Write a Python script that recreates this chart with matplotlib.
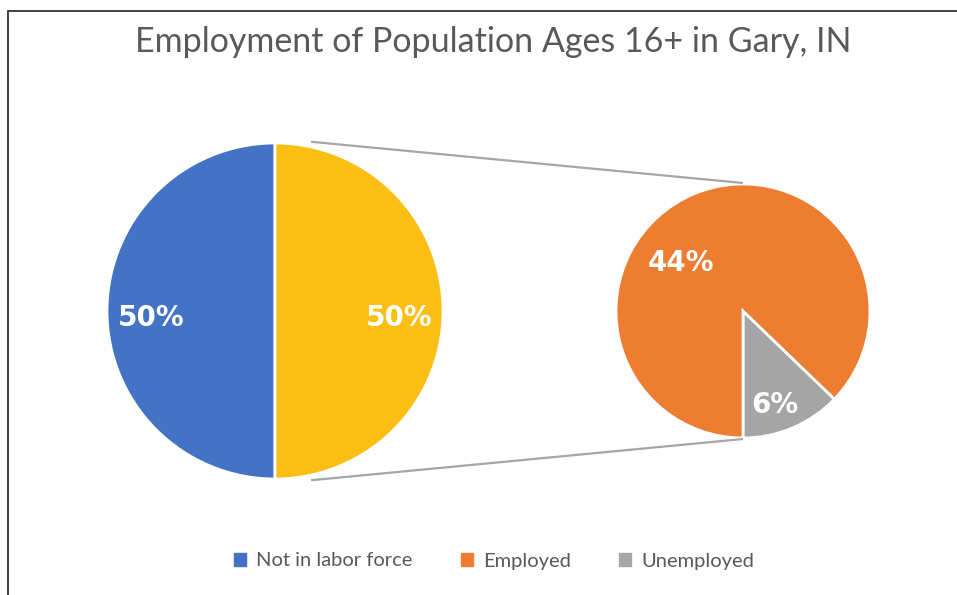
import numpy as np
import matplotlib.pyplot as plt
from matplotlib.patches import Patch, Rectangle

title = "Employment of Population Ages 16+ in Gary, IN"
main_labels = ["Not in labor force", "In labor force"]
main_values = [50, 50]
sub_labels = ["Unemployed", "Employed"]
sub_values = [6.4, 43.6]
legend_labels = ["Not in labor force", "Employed", "Unemployed"]

blue = "#4472C4"
yellow = "#FBBF14"
orange = "#ED7D31"
grey = "#A5A5A5"
text_grey = "#595959"

W, H = 957, 595


def main():
    fig = plt.figure(figsize=(W / 100, H / 100), dpi=100)
    ax = fig.add_axes([0, 0, 1, 1])
    ax.axis("off")

    # frame of the chart area (only top and left edges are in view)
    fig.patches.append(Rectangle((8 / W, -0.1), 1.2, (H - 11) / H + 0.1,
                                 transform=fig.transFigure, fill=False,
                                 edgecolor="#333333", linewidth=1.3))

    cl, rl = (275, H - 311), 168
    cr, rr = (743, H - 311), 127

    ax.pie(main_values, colors=[blue, yellow], startangle=90, counterclock=True,
           center=cl, radius=rl, wedgeprops=dict(edgecolor="white", linewidth=2))
    ax.pie(sub_values, colors=[grey, orange], startangle=-90, counterclock=True,
           center=cr, radius=rr, wedgeprops=dict(edgecolor="white", linewidth=2))
    ax.set_xlim(0, W)
    ax.set_ylim(0, H)
    ax.set_aspect("auto")

    lab = dict(color="white", fontsize=20, fontweight="bold", ha="center",
               va="center", family="DejaVu Sans")
    # labels of the main pie
    for v, ang in zip(main_values, [180, 0]):
        a = np.radians(ang)
        ax.text(cl[0] + 0.74 * rl * np.cos(a), cl[1] - 7 + 0.74 * rl * np.sin(a),
                f"{v:.0f}%", **lab)
    # labels of the secondary pie
    for v, ang, d in zip(sub_values, [-71, 142], [0.78, 0.62]):
        a = np.radians(ang)
        ax.text(cr[0] + d * rr * np.cos(a), cr[1] + d * rr * np.sin(a),
                f"{v:.0f}%", **lab)

    # connector lines
    for s in (1, -1):
        a = np.radians(78 * s)
        x0 = cl[0] + 1.03 * rl * np.cos(a)
        y0 = cl[1] + 1.03 * rl * np.sin(a)
        x1, y1 = cr[0], cr[1] + s * (rr + 1)
        ax.plot([x0, x1], [y0, y1], color="#A6A6A6", linewidth=1.6,
                solid_capstyle="butt")

    ax.text(493, H - 42, title, ha="center", va="center", fontsize=24.5,
            color=text_grey, family="Lato")

    handles = [Patch(color=c) for c in (blue, orange, grey)]
    leg = ax.legend(handles, legend_labels, loc="center",
                    bbox_to_anchor=(494 / W, 1 - 561 / H), ncol=3, frameon=False,
                    handlelength=0.6, handleheight=0.6,
                    handletextpad=0.5, columnspacing=2.4,
                    prop=dict(family="Lato", size=14.5))
    for t in leg.get_texts():
        t.set_color(text_grey)

    fig.savefig("out.png", dpi=100)


if __name__ == "__main__":
    main()
